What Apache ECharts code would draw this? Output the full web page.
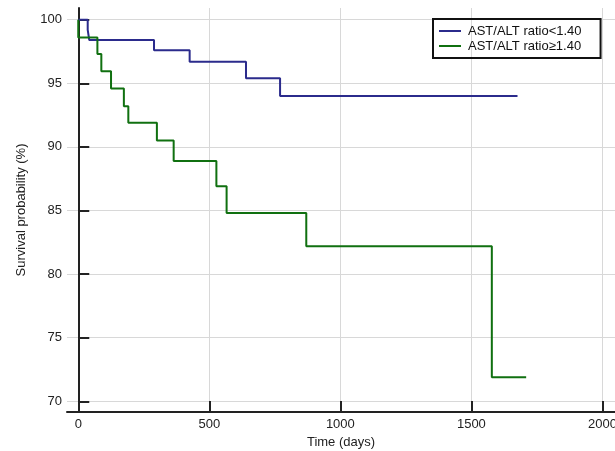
<!DOCTYPE html>
<html>
<head>
<meta charset="utf-8">
<script src="https://cdn.jsdelivr.net/npm/echarts@6/dist/echarts.min.js"></script>
<style>
  html, body { margin: 0; padding: 0; background: #fff; }
  #main { width: 615px; height: 451px; }
</style>
</head>
<body>
<div id="main"></div>
<script>
// Kaplan-Meier steps: [time (days), survival %]
var lowRatio = [[0, 100], [36, 99.2], [42, 98.4], [289, 97.6], [425, 96.7], [640, 95.4], [770, 94.0], [1676, 94.0]];
var highRatio = [[0, 100], [0, 98.6], [73, 97.3], [88, 95.95], [125, 94.6], [174, 93.2], [191, 91.9], [300, 90.5], [364, 88.9], [527, 86.9], [566, 84.8], [870, 82.2], [1578, 71.9], [1709, 71.9]];
var seriesNames = ['AST/ALT ratio<1.40', 'AST/ALT ratio\u22651.40'];
var xTicks = [0, 500, 1000, 1500, 2000];
var yTicks = [70, 75, 80, 85, 90, 95, 100];

var axisColor = '#222';
var font = 'Liberation Sans, Arial, sans-serif';

var option = {
    animation: false,
    backgroundColor: '#fff',
    grid: { left: 67, right: 0, top: 8, bottom: 39, outerBoundsMode: 'none', containLabel: false },
    legend: {
        orient: 'vertical',
        left: 433,
        top: 19,
        padding: [5, 19, 5, 6],
        borderColor: '#111',
        borderWidth: 2,
        itemWidth: 22,
        itemHeight: 2,
        itemGap: 1,
        icon: 'rect',
        textStyle: { fontFamily: font, fontSize: 13, color: '#111', lineHeight: 14, padding: [0, 0, 0, 2] },
        data: seriesNames
    },
    xAxis: {
        type: 'value',
        min: -43,
        max: 2048,
        name: 'Time (days)',
        nameLocation: 'middle',
        nameGap: 23,
        nameTextStyle: { fontFamily: font, fontSize: 13, color: '#222' },
        axisLine: { lineStyle: { color: axisColor, width: 2 } },
        axisTick: { inside: true, length: 11, customValues: xTicks, lineStyle: { color: axisColor, width: 2 } },
        axisLabel: {
            customValues: xTicks, margin: 6, fontFamily: font, fontSize: 13, color: '#222',
            formatter: function (v) { return String(v); }
        },
        splitLine: { show: true, lineStyle: { color: '#d8d8d8', width: 1 } }
    },
    yAxis: {
        type: 'value',
        min: 69.16,
        max: 100.92,
        name: 'Survival probability (%)',
        nameLocation: 'middle',
        nameGap: 39,
        nameTextStyle: { fontFamily: font, fontSize: 13, color: '#222' },
        axisLine: { show: true, lineStyle: { color: axisColor, width: 2 } },
        axisTick: { show: true, inside: true, length: 11, customValues: yTicks, lineStyle: { color: axisColor, width: 2 } },
        axisLabel: { customValues: yTicks, margin: 5, fontFamily: font, fontSize: 13, color: '#222' },
        splitLine: { show: true, lineStyle: { color: '#d8d8d8', width: 1 } }
    },
    series: [
        {
            name: seriesNames[0],
            type: 'line',
            step: 'end',
            showSymbol: false,
            color: '#2b2b8c',
            lineStyle: { width: 2 },
            data: lowRatio
        },
        {
            name: seriesNames[1],
            type: 'line',
            step: 'end',
            showSymbol: false,
            color: '#107010',
            lineStyle: { width: 2 },
            data: highRatio
        }
    ]
};
var chart = echarts.init(document.getElementById('main'));
chart.setOption(option);
</script>
</body>
</html>
